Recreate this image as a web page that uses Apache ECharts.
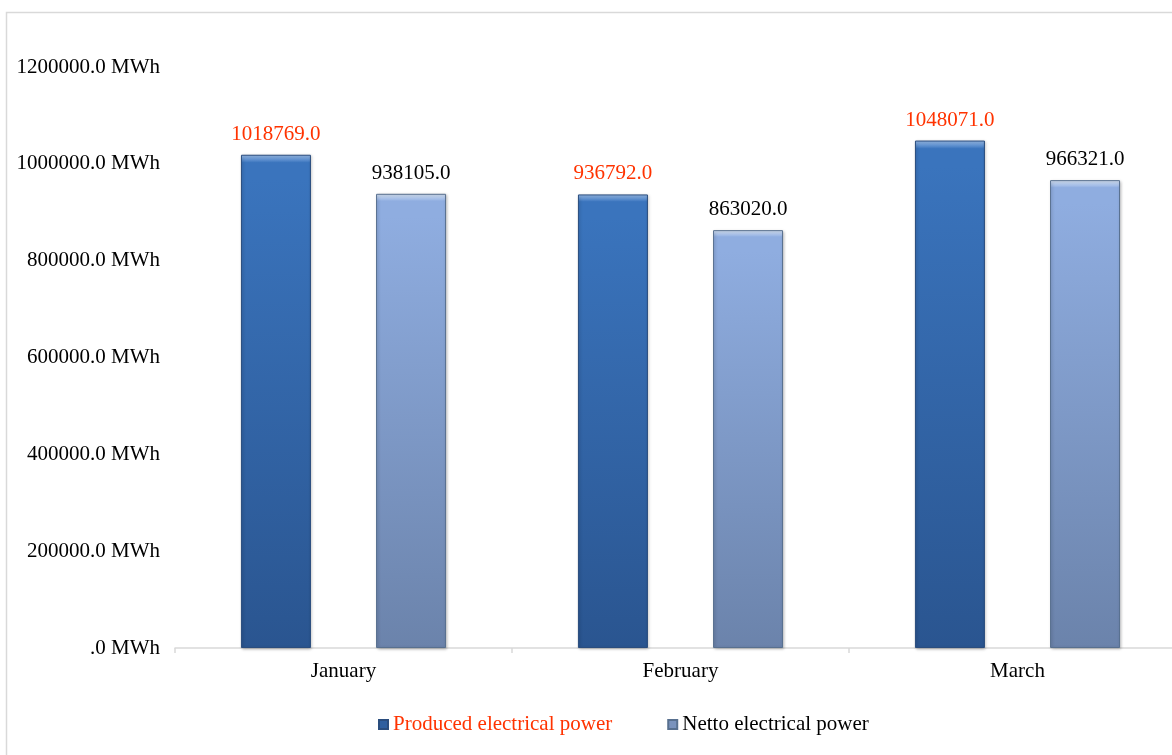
<!DOCTYPE html>
<html><head><meta charset="utf-8">
<script src="https://cdn.jsdelivr.net/npm/echarts@6/dist/echarts.min.js"></script>
<style>html,body{margin:0;padding:0;background:#fff}#c{width:1172px;height:755px}</style>
</head><body><div id="c"></div>
<script>
var categories = ['January', 'February', 'March'];
var produced = [1018769.0, 936792.0, 1048071.0];
var netto = [938105.0, 863020.0, 966321.0];
var seriesNames = ['Produced electrical power', 'Netto electrical power'];

var serif = '"Liberation Serif","DejaVu Serif",serif';
var chart = echarts.init(document.getElementById('c'));
function grad(top, mid, bottom) {
  return new echarts.graphic.LinearGradient(0, 0, 0, 1, [
    {offset: 0, color: top}, {offset: 0.016, color: mid}, {offset: 0.05, color: mid}, {offset: 1, color: bottom}
  ]);
}
chart.setOption({
  animation: false,
  graphic: [{type: 'rect', shape: {x: 6.5, y: 12.5, width: 1180, height: 760}, style: {fill: 'none', stroke: '#d9d9d9', lineWidth: 1.5}, z: -1}],
  legend: {
    left: 373, top: 709, itemWidth: 9, itemHeight: 9, itemGap: 55,
    icon: 'rect',
    textStyle: {fontFamily: serif, fontSize: 21, color: '#000'},
    data: [
      {name: seriesNames[0], textStyle: {color: '#ff3300'}, itemStyle: {color: '#2f5f9f'}},
      {name: seriesNames[1], itemStyle: {color: '#7a93bd'}}
    ]
  },
  grid: {left: 175, width: 1011, top: 67, bottom: 107, containLabel: false, outerBoundsMode: 'none'},
  xAxis: {
    type: 'category', data: categories,
    axisLine: {lineStyle: {color: '#d9d9d9', width: 1.5}},
    axisTick: {show: true, length: 5, lineStyle: {color: '#d9d9d9', width: 1.5}},
    axisLabel: {fontFamily: serif, fontSize: 21, color: '#000', margin: 13}
  },
  yAxis: {
    type: 'value', min: 0, max: 1200000, interval: 200000,
    splitLine: {show: false},
    axisLine: {show: false}, axisTick: {show: false},
    axisLabel: {fontFamily: serif, fontSize: 21, color: '#000', margin: 15,
      formatter: function (v) { return v === 0 ? '.0 MWh' : v.toFixed(1) + ' MWh'; }}
  },
  series: [
    {
      name: seriesNames[0], type: 'bar', data: produced, barWidth: 70, barGap: '93%',
      itemStyle: {color: grad('#9cc0ee', '#3a74bd', '#2a5590'), borderColor: '#2a4d7e', borderWidth: 1,
        shadowColor: 'rgba(0,0,0,0.25)', shadowBlur: 3, shadowOffsetX: 1, shadowOffsetY: 1},
      label: {show: true, position: 'top', distance: 10, fontFamily: serif, fontSize: 21, color: '#ff3300',
        formatter: function (p) { return p.value.toFixed(1); }}
    },
    {
      name: seriesNames[1], type: 'bar', data: netto, barWidth: 70,
      itemStyle: {color: grad('#dbe8fa', '#8fade0', '#6b83ab'), borderColor: '#58708f', borderWidth: 1,
        shadowColor: 'rgba(0,0,0,0.25)', shadowBlur: 3, shadowOffsetX: 1, shadowOffsetY: 1},
      label: {show: true, position: 'top', distance: 10, fontFamily: serif, fontSize: 21, color: '#000',
        formatter: function (p) { return p.value.toFixed(1); }}
    }
  ]
});
</script></body></html>
